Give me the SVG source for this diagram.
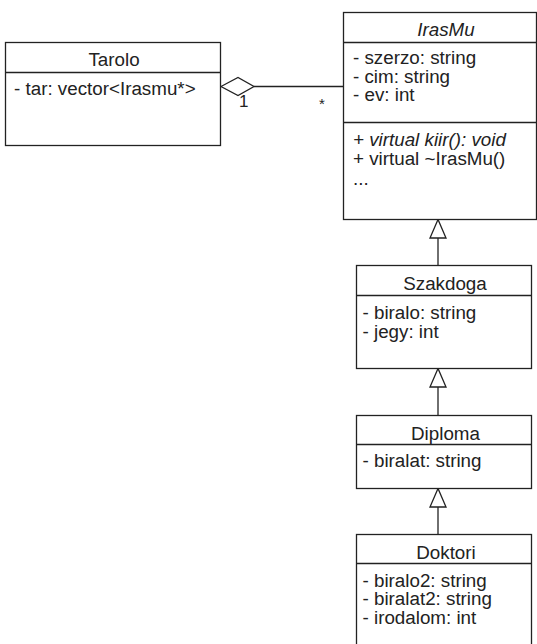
<svg xmlns="http://www.w3.org/2000/svg" width="537" height="644" viewBox="0 0 537 644">
<style>
.box{fill:#fff;stroke:#222;stroke-width:1.3}
.div{stroke:#222;stroke-width:1.3}
text{font-family:"Liberation Sans",Arial,sans-serif;font-size:18.8px;fill:#222}
.t{text-anchor:middle}
.i{font-style:italic}
.edge{stroke:#222;stroke-width:1.3;fill:none}
.head{fill:#fff;stroke:#222;stroke-width:1.3}
.lbl{font-size:17px}
.star{font-size:15px}
</style>
<rect width="537" height="644" fill="#fff"/>
<g id="connectors">
<line class="edge" x1="254" y1="86.5" x2="343.5" y2="86.5"/>
<polygon class="head" points="221,86.5 238,77.5 254,86.5 238,95.5"/>
<text class="lbl" x="239" y="107">1</text>
<text class="star" x="319" y="109">*</text>
<line class="edge" x1="438" y1="238" x2="438" y2="265.5"/>
<polygon class="head" points="438,219.5 430,238 446,238"/>
<line class="edge" x1="438" y1="387" x2="438" y2="415.5"/>
<polygon class="head" points="438,368.5 430,387 446,387"/>
<line class="edge" x1="438" y1="507" x2="438" y2="534.5"/>
<polygon class="head" points="438,488.5 430,507 446,507"/>
</g>
<g id="Tarolo">
<rect class="box" x="5.5" y="42.5" width="215" height="103"/>
<line class="div" x1="5.5" y1="72.5" x2="220.5" y2="72.5"/>
<text class="t" x="114" y="66">Tarolo</text>
<text x="14" y="95">- tar: vector&lt;Irasmu*&gt;</text>
</g>
<g id="IrasMu">
<rect class="box" x="343.5" y="12.5" width="193" height="207"/>
<line class="div" x1="343.5" y1="42.5" x2="536.5" y2="42.5"/>
<line class="div" x1="343.5" y1="122.5" x2="536.5" y2="122.5"/>
<text class="t i" x="446" y="36">IrasMu</text>
<text x="353" y="64">- szerzo: string</text>
<text x="353" y="82.5">- cim: string</text>
<text x="353" y="101">- ev: int</text>
<text class="i" x="353" y="145.5">+ virtual kiir(): void</text>
<text x="353" y="164.5">+ virtual ~IrasMu()</text>
<text x="353" y="185">...</text>
</g>
<g id="Szakdoga">
<rect class="box" x="356.5" y="265.5" width="175" height="103"/>
<line class="div" x1="356.5" y1="295.5" x2="531.5" y2="295.5"/>
<text class="t" x="445" y="290">Szakdoga</text>
<text x="362.5" y="318.5">- biralo: string</text>
<text x="362.5" y="337.5">- jegy: int</text>
</g>
<g id="Diploma">
<rect class="box" x="356.5" y="415.5" width="175" height="73"/>
<line class="div" x1="356.5" y1="444.5" x2="531.5" y2="444.5"/>
<text class="t" x="445.5" y="440">Diploma</text>
<text x="362.5" y="466.5">- biralat: string</text>
</g>
<g id="Doktori">
<rect class="box" x="356.5" y="534.5" width="175" height="120"/>
<line class="div" x1="356.5" y1="563.5" x2="531.5" y2="563.5"/>
<text class="t" x="446" y="558.5">Doktori</text>
<text x="362.5" y="586.5">- biralo2: string</text>
<text x="362.5" y="605">- biralat2: string</text>
<text x="362.5" y="623.5">- irodalom: int</text>
</g>
</svg>
